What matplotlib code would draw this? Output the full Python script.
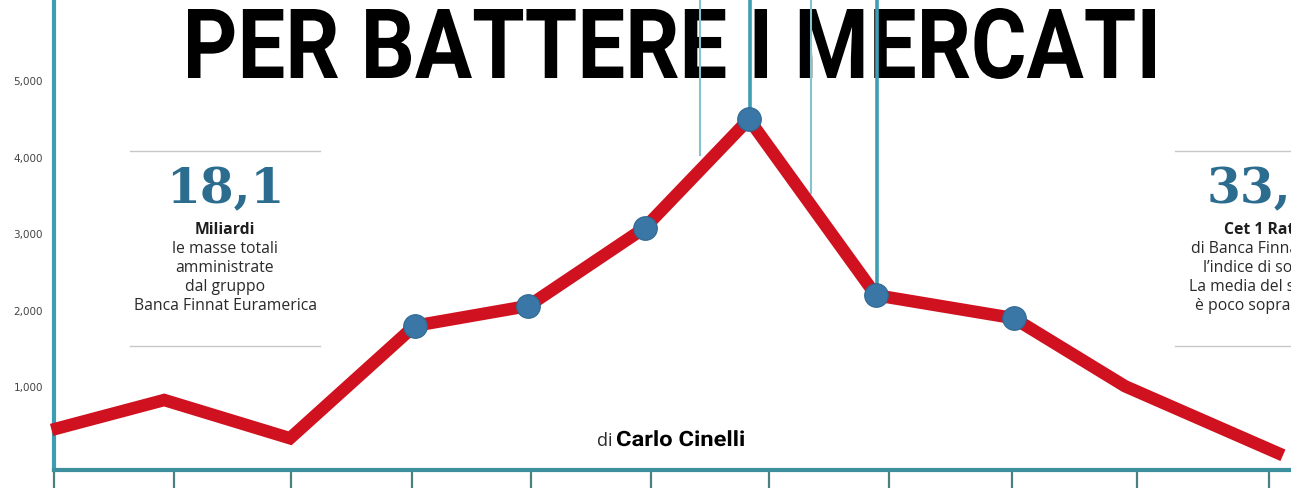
import matplotlib
matplotlib.use("Agg")
import matplotlib.pyplot as plt
from matplotlib.font_manager import FontProperties
from matplotlib.patches import PathPatch
from matplotlib.textpath import TextPath
from matplotlib.transforms import Affine2D, IdentityTransform

# series
x_pos = [0.03, 0.92, 1.97, 3.01, 3.96, 4.93, 5.80, 6.86, 8.01, 8.94, 10.21]
values = [460, 830, 330, 1800, 2060, 3080, 4500, 2200, 1900, 1010, 140]
marked = [3, 4, 5, 6, 7, 8]

x_ticks = [0, 1.0, 1.98, 2.99, 3.98, 4.98, 5.97, 6.97, 8.0, 9.04, 10.14]
y_ticks = [1000, 2000, 3000, 4000, 5000]
y_labels = ["1,000", "2,000", "3,000", "4,000", "5,000"]

vline_x = [5.39, 5.81, 6.32, 6.87]
vline_bottom = [4030, 4500, 3540, 2200]
vline_thick = [False, True, False, True]

title = "PER BATTERE I MERCATI"
byline_pre = "di"
byline_name = "Carlo Cinelli"

left_number = "18,1"
left_head = "Miliardi"
left_lines = ["le masse totali", "amministrate", "dal gruppo", "Banca Finnat Euramerica"]

right_number = "33,7"
right_head = "Cet 1 Ratio"
right_lines = ["di Banca Finnat, cioè", "l\u2019indice di solidità", "La media del sistema", "è poco sopra il 12%"]

W, H = 1291, 488
RED = "#d0111f"
DOT = "#3a77a6"
TEAL = "#3e9db3"
TEAL_LIGHT = "#86c3cf"
NUM_BLUE = "#2c6c8e"


def px(x, y):
    return x / W, 1 - y / H


def fitted_text(text, x0, x1, cap_top, baseline, prop, zorder=3):
    # squeeze a text path into a pixel box (condensed look)
    path = TextPath((0, 0), text, size=100, prop=prop)
    cap = TextPath((0, 0), "H", size=100, prop=prop).get_extents().ymax
    ext = path.get_extents()
    sx = (x1 - x0) / ext.width
    sy = (baseline - cap_top) / cap
    tr = Affine2D().translate(-ext.xmin, 0).scale(sx, sy).translate(x0, H - baseline)
    patch = PathPatch(tr.transform_path(path), color="black", lw=0,
                      transform=IdentityTransform(), zorder=zorder)
    fig.add_artist(patch)


fig = plt.figure(figsize=(W / 100, H / 100), dpi=100)
fig.patch.set_facecolor("white")
ax = fig.add_axes([54 / W, 18 / H, (W - 54) / W, 470 / H])
ax.patch.set_alpha(0)
ax.set_xlim(0.0167, 10.325)
ax.set_ylim(-85, 6059)

for s in ("top", "right"):
    ax.spines[s].set_visible(False)
ax.spines["left"].set_color(TEAL)
ax.spines["left"].set_linewidth(3)
ax.spines["bottom"].set_color("#3c8f9c")
ax.spines["bottom"].set_linewidth(3)

ax.set_xticks(x_ticks)
ax.set_xticklabels([])
ax.tick_params(axis="x", length=14, width=1.6, color="#4e7f7f", direction="out")
ax.set_yticks(y_ticks)
ax.set_yticklabels(y_labels, fontsize=7.5, color="#444444")
ax.tick_params(axis="y", length=0, pad=8)

for xv, yb, thick in zip(vline_x, vline_bottom, vline_thick):
    ax.plot([xv, xv], [yb, 6059], color=TEAL if thick else TEAL_LIGHT,
            lw=2.6 if thick else 1.5, zorder=2, clip_on=False)

ax.plot(x_pos, values, color=RED, lw=9, solid_joinstyle="miter", zorder=3, clip_on=False)
ax.plot([x_pos[i] for i in marked], [values[i] for i in marked], "o", ms=17,
        color=DOT, mec="#2f6890", mew=0.8, zorder=4)

# headline sits under the blue vertical lines
bold = FontProperties(family="Roboto", weight="bold")
fitted_text(title, 188, 1155, 9, 78, bold, zorder=-1)

# byline
fig.text(*px(612, 446), byline_pre, ha="right", va="baseline", fontsize=13,
         family="Open Sans", color="#2a2a2a")
fitted_text(byline_name, 617, 744, 431, 446, bold)


def info_box(cx, x0, x1, number, head, lines):
    fig.add_artist(plt.Line2D([x0 / W, x1 / W], [1 - 151 / H] * 2, color="#c8c8c8", lw=1))
    fig.add_artist(plt.Line2D([x0 / W, x1 / W], [1 - 346 / H] * 2, color="#c8c8c8", lw=1))
    fig.text(*px(cx, 203), number, ha="center", va="baseline", fontsize=35,
             fontweight="bold", family="DejaVu Serif", color=NUM_BLUE)
    fig.text(*px(cx, 234), head, ha="center", va="baseline", fontsize=11.3,
             fontweight="bold", family="Open Sans", color="#1e1e1e")
    for i, line in enumerate(lines):
        fig.text(*px(cx, 253 + 19 * i), line, ha="center", va="baseline", fontsize=11.3,
                 family="Open Sans", color="#2a2a2a")


info_box(225, 130, 320, left_number, left_head, left_lines)
info_box(1266, 1175, 1360, right_number, right_head, right_lines)

fig.savefig("out.png", dpi=100)
